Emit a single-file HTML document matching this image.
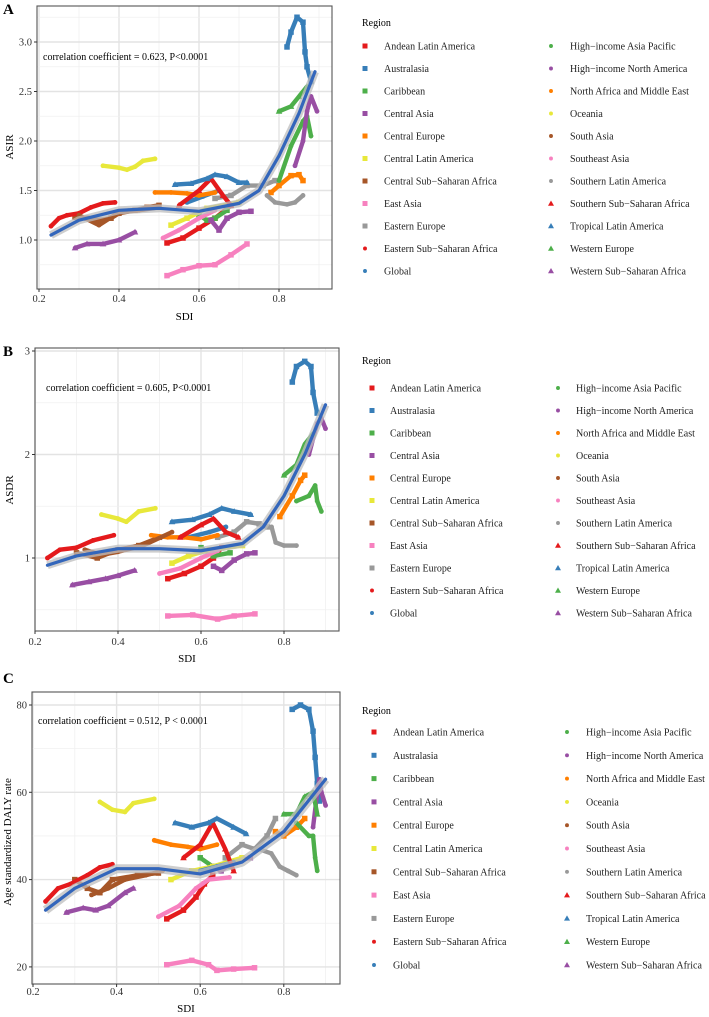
<!DOCTYPE html>
<html><head><meta charset="utf-8"><style>
html,body{margin:0;padding:0;background:#fff;}
svg{display:block;font-family:"Liberation Serif",serif;}
</style></head><body>
<svg id="chart" width="709" height="1017" viewBox="0 0 709 1017" xmlns="http://www.w3.org/2000/svg"></svg>
<script>
const categories = ["Andean Latin America","Australasia","Caribbean","Central Asia","Central Europe","Central Latin America","Central Sub\u2212Saharan Africa","East Asia","Eastern Europe","Eastern Sub\u2212Saharan Africa","Global","High\u2212income Asia Pacific","High\u2212income North America","North Africa and Middle East","Oceania","South Asia","Southeast Asia","Southern Latin America","Southern Sub\u2212Saharan Africa","Tropical Latin America","Western Europe","Western Sub\u2212Saharan Africa"];
const asirPts = [
 [[0.52,0.97],[0.56,1.02],[0.6,1.12],[0.64,1.22],[0.68,1.35]],
 [[0.82,2.95],[0.83,3.1],[0.845,3.25],[0.86,3.2],[0.865,2.9],[0.87,2.75],[0.88,2.6]],
 [[0.6,1.25],[0.62,1.2],[0.64,1.22],[0.67,1.3]],
 [[0.63,1.2],[0.65,1.1],[0.67,1.22],[0.7,1.28],[0.73,1.29]],
 [[0.78,1.48],[0.8,1.55],[0.83,1.65],[0.85,1.66],[0.86,1.6]],
 [[0.53,1.15],[0.57,1.22],[0.62,1.32],[0.7,1.38]],
 [[0.29,1.23],[0.32,1.22],[0.35,1.2],[0.38,1.22],[0.4,1.27],[0.44,1.3],[0.47,1.33],[0.5,1.35]],
 [[0.52,0.64],[0.56,0.7],[0.6,0.74],[0.64,0.75],[0.68,0.85],[0.72,0.96]],
 [[0.64,1.42],[0.68,1.45],[0.72,1.55],[0.76,1.55],[0.79,1.6]],
 [[0.23,1.14],[0.25,1.22],[0.27,1.25],[0.3,1.27],[0.33,1.33],[0.36,1.37],[0.39,1.38]],
 [[0.57,1.38],[0.61,1.44],[0.65,1.5]],
 [[0.8,1.6],[0.83,1.95],[0.86,2.2],[0.87,2.25],[0.88,2.05]],
 [[0.84,1.75],[0.86,2.0],[0.87,2.3],[0.88,2.45],[0.895,2.3]],
 [[0.49,1.48],[0.53,1.48],[0.57,1.47],[0.6,1.45],[0.64,1.48]],
 [[0.36,1.75],[0.4,1.73],[0.42,1.71],[0.44,1.74],[0.46,1.8],[0.49,1.82]],
 [[0.3,1.25],[0.35,1.15],[0.4,1.28],[0.45,1.3],[0.5,1.33]],
 [[0.51,1.02],[0.55,1.1],[0.6,1.22],[0.64,1.3]],
 [[0.77,1.45],[0.79,1.38],[0.82,1.36],[0.84,1.38],[0.86,1.45]],
 [[0.55,1.35],[0.6,1.5],[0.63,1.62],[0.66,1.45],[0.68,1.35]],
 [[0.54,1.56],[0.58,1.57],[0.62,1.62],[0.64,1.66],[0.67,1.64],[0.7,1.58],[0.72,1.58]],
 [[0.8,2.3],[0.83,2.35],[0.85,2.45],[0.87,2.55]],
 [[0.29,0.92],[0.32,0.96],[0.36,0.96],[0.4,1.0],[0.44,1.08]]
];
const asdrPts = [
 [[0.52,0.8],[0.56,0.85],[0.6,0.92],[0.63,1.0],[0.65,1.1]],
 [[0.82,2.7],[0.83,2.85],[0.85,2.9],[0.865,2.85],[0.87,2.6],[0.88,2.4]],
 [[0.6,1.1],[0.63,1.02],[0.67,1.05]],
 [[0.63,0.92],[0.65,0.88],[0.68,0.98],[0.71,1.04],[0.73,1.05]],
 [[0.79,1.4],[0.82,1.6],[0.84,1.75],[0.85,1.8]],
 [[0.53,0.95],[0.57,1.02],[0.62,1.08],[0.7,1.12]],
 [[0.3,1.05],[0.35,1.0],[0.4,1.08],[0.45,1.12],[0.5,1.2]],
 [[0.52,0.44],[0.58,0.45],[0.64,0.41],[0.68,0.44],[0.73,0.46]],
 [[0.64,1.2],[0.68,1.25],[0.71,1.35],[0.74,1.33],[0.76,1.3]],
 [[0.23,1.0],[0.26,1.08],[0.3,1.1],[0.34,1.17],[0.39,1.22]],
 [[0.57,1.2],[0.62,1.25],[0.66,1.3]],
 [[0.83,1.55],[0.86,1.6],[0.875,1.7],[0.88,1.55],[0.89,1.45]],
 [[0.86,2.0],[0.88,2.3],[0.89,2.35],[0.9,2.25]],
 [[0.48,1.22],[0.52,1.2],[0.56,1.2],[0.6,1.18],[0.64,1.22]],
 [[0.36,1.42],[0.4,1.38],[0.42,1.35],[0.45,1.45],[0.49,1.48]],
 [[0.32,1.08],[0.36,1.03],[0.4,1.06],[0.46,1.12],[0.53,1.25]],
 [[0.5,0.85],[0.55,0.9],[0.6,1.0],[0.64,1.07]],
 [[0.77,1.3],[0.78,1.15],[0.8,1.12],[0.83,1.12]],
 [[0.55,1.2],[0.6,1.32],[0.63,1.38],[0.66,1.25],[0.69,1.2]],
 [[0.53,1.35],[0.58,1.37],[0.62,1.42],[0.65,1.48],[0.68,1.45],[0.72,1.42]],
 [[0.8,1.8],[0.83,1.9],[0.85,2.1],[0.87,2.2]],
 [[0.29,0.74],[0.33,0.77],[0.37,0.8],[0.4,0.83],[0.44,0.88]]
];
const dalyPts = [
 [[0.52,31],[0.56,33],[0.59,36],[0.61,39],[0.63,41]],
 [[0.82,79],[0.84,80],[0.86,79],[0.87,74],[0.875,68],[0.88,62],[0.885,58]],
 [[0.6,45],[0.63,43],[0.67,43]],
 [[0.63,43],[0.65,42],[0.68,44],[0.72,45]],
 [[0.78,51],[0.8,50],[0.83,52],[0.85,54]],
 [[0.53,40],[0.58,42],[0.63,43],[0.7,45]],
 [[0.3,40],[0.33,38],[0.36,37],[0.39,40],[0.45,41],[0.5,41.5]],
 [[0.52,20.5],[0.58,21.5],[0.62,20.5],[0.64,19.2],[0.68,19.5],[0.73,19.8]],
 [[0.66,45],[0.7,48],[0.73,47],[0.76,50],[0.78,54]],
 [[0.23,35],[0.26,38],[0.29,39],[0.33,41],[0.36,42.8],[0.39,43.5]],
 [[0.6,42],[0.64,43],[0.68,44]],
 [[0.83,53],[0.86,50],[0.87,50],[0.875,45],[0.88,42]],
 [[0.87,52],[0.88,60],[0.885,63],[0.89,60],[0.9,57]],
 [[0.49,49],[0.53,48],[0.57,47.5],[0.6,47],[0.64,48]],
 [[0.36,57.8],[0.39,56],[0.42,55.5],[0.44,57.5],[0.49,58.5]],
 [[0.34,36.5],[0.38,38],[0.42,40],[0.47,41],[0.51,42]],
 [[0.5,31.5],[0.55,34],[0.59,38],[0.62,40],[0.67,40.5]],
 [[0.74,47],[0.77,46],[0.79,43],[0.81,42],[0.83,41]],
 [[0.56,45],[0.6,48],[0.63,53],[0.66,47],[0.68,42]],
 [[0.54,53],[0.58,52],[0.62,53],[0.64,54],[0.68,52],[0.71,50.5]],
 [[0.8,55],[0.83,55],[0.85,59],[0.87,60],[0.88,55]],
 [[0.28,32.5],[0.32,33.5],[0.35,33],[0.38,34],[0.42,37],[0.44,38]]
];
const fitA = [[0.23,1.05],[0.3,1.2],[0.4,1.3],[0.5,1.32],[0.6,1.29],[0.7,1.37],[0.75,1.5],[0.8,1.85],[0.85,2.28],[0.89,2.7]];
const fitB = [[0.23,0.93],[0.3,1.02],[0.4,1.09],[0.5,1.09],[0.6,1.07],[0.7,1.14],[0.75,1.3],[0.8,1.6],[0.85,2.0],[0.9,2.48]];
const fitC = [[0.23,33],[0.3,38],[0.4,42.5],[0.5,42.5],[0.6,41.3],[0.7,44],[0.8,51],[0.9,63]];
const xTicks = [0.2,0.4,0.6,0.8];
const yTicksA = ["1.0","1.5","2.0","2.5","3.0"];
const yTicksB = ["1","2","3"];
const yTicksC = ["20","40","60","80"];

const palette = ["#E41A1C","#377EB8","#4DAF4A","#984EA3","#FF7F00","#E8E83A","#A65628","#F781BF","#999999"];
const NS = "http://www.w3.org/2000/svg";
const svg = document.getElementById("chart");
function mk(tag, attrs, parent){const e=document.createElementNS(NS,tag);for(const k in attrs)e.setAttribute(k,attrs[k]);(parent||svg).appendChild(e);return e;}
function styleOf(i){ if(i<9) return {shape:"sq",color:palette[i]}; if(i<18) return {shape:"ci",color:palette[i-9]}; return {shape:"tr",color:palette[[0,1,2,3][i-18]]}; }
function marker(g,shape,color,x,y,s){
  if(shape==="sq") return mk("rect",{x:x-s/2,y:y-s/2,width:s,height:s,fill:color},g);
  if(shape==="ci") return mk("circle",{cx:x,cy:y,r:s/2.3,fill:color},g);
  return mk("polygon",{points:`${x},${y-s*0.6} ${x-s*0.6},${y+s*0.45} ${x+s*0.6},${y+s*0.45}`,fill:color},g);
}

const panels = [
 {key:"asir",letter:"A",pts:asirPts,fit:fitA,yt:yTicksA,L:37,R:332,T:6,B:289,px0:39,pps:400,vy0:1,py0:240,ppv:99,
  ytitle:"ASIR",ytx:9,yty:147,ann:"correlation coefficient = 0.623, P<0.0001",ax:43,ay:60,letX:3,letY:14,xl:302,xt:320,
  legX:362,regY:22,rowY:46,rowD:22.5,m1:365,t1:384,m2:551,t2:570,band:8},
 {key:"asdr",letter:"B",pts:asdrPts,fit:fitB,yt:yTicksB,L:35,R:339,T:348,B:631,px0:35,pps:415,vy0:1,py0:558,ppv:103.5,
  ytitle:"ASDR",ytx:9,yty:490,ann:"correlation coefficient = 0.605, P<0.0001",ax:46,ay:391,letX:3,letY:356,xl:645,xt:662,
  legX:362,regY:360,rowY:388,rowD:22.5,m1:372,t1:390,m2:558,t2:576,band:8},
 {key:"daly",letter:"C",pts:dalyPts,fit:fitC,yt:yTicksC,L:32,R:340,T:692,B:984,px0:33,pps:418,vy0:80,py0:705,ppv:4.365,
  ytitle:"Age standardized DALY rate",ytx:7,yty:842,ann:"correlation coefficient = 0.512, P < 0.0001",ax:38,ay:724,letX:3,letY:683,xl:995,xt:1012,
  legX:362,regY:710,rowY:732,rowD:23.3,m1:374,t1:393,m2:567,t2:586,band:9}
];

panels.forEach(p=>{
  const xs = s => p.px0 + (s-0.2)*p.pps;
  const ys = v => p.py0 - (v - p.vy0)*p.ppv;
  const vTop = p.vy0 + (p.py0 - p.T)/p.ppv, vBot = p.vy0 - (p.B - p.py0)/p.ppv;
  const g = mk("g",{});
  
  
  const bg = mk("rect",{x:p.L,y:p.T,width:p.R-p.L,height:p.B-p.T,fill:"#fff"},g);
  
  
  for(let s=0.3;s<=0.91;s+=0.2){ mk("line",{x1:xs(s),x2:xs(s),y1:p.T,y2:p.B,stroke:"#f0f0f0","stroke-width":0.8},g); }
  xTicks.forEach(s=>mk("line",{x1:xs(s),x2:xs(s),y1:p.T,y2:p.B,stroke:"#e3e3e3","stroke-width":1.4},g));
  const major = p.yt.map(Number);
  const step = major[1]-major[0];
  for(let v=major[0]-step/2; v<vTop; v+=step){ if(v>vBot) mk("line",{x1:p.L,x2:p.R,y1:ys(v),y2:ys(v),stroke:"#f0f0f0","stroke-width":0.8},g); }
  major.forEach(v=>mk("line",{x1:p.L,x2:p.R,y1:ys(v),y2:ys(v),stroke:"#e3e3e3","stroke-width":1.4},g));
  p.pts.forEach((arr,i)=>{
    const st = styleOf(i);
    const sg = mk("g",{},g);
    
    
    mk("polyline",{points:arr.map(d=>xs(d[0])+","+ys(d[1])).join(" "),fill:"none",stroke:st.color,"stroke-width":4.4,"stroke-linejoin":"round","stroke-linecap":"round"},sg);
    arr.forEach(d=>{ const m = marker(sg,st.shape,st.color,xs(d[0]),ys(d[1]),5.5);
      
       });
  });
  const fpts = p.fit.map(d=>xs(d[0])+","+ys(d[1])).join(" ");
  const band = mk("polyline",{points:fpts,fill:"none",stroke:"#bdbdbd","stroke-opacity":0.75,"stroke-width":p.band,"stroke-linejoin":"round"},g);
  
  
  const fl = mk("polyline",{points:fpts,fill:"none",stroke:"#3366BB","stroke-width":3.2,"stroke-linejoin":"round","stroke-linecap":"round"},g);
  
  
  const bd = mk("rect",{x:p.L,y:p.T,width:p.R-p.L,height:p.B-p.T,fill:"none",stroke:"#555","stroke-width":1.1},g);
  
  
  xTicks.forEach(s=>{
    mk("line",{x1:xs(s),x2:xs(s),y1:p.B,y2:p.B+3,stroke:"#333"},g);
    const t = mk("text",{x:xs(s),y:p.xl,"font-size":10.5,"text-anchor":"middle",fill:"#333"},g);
    t.textContent = s.toFixed(1);
    
    
  });
  p.yt.forEach(lbl=>{
    const v = Number(lbl);
    mk("line",{x1:p.L-3,x2:p.L,y1:ys(v),y2:ys(v),stroke:"#333"},g);
    const t = mk("text",{x:p.L-5,y:ys(v)+3.5,"font-size":10.5,"text-anchor":"end",fill:"#333"},g);
    t.textContent = lbl;
    
    
  });
  const xt = mk("text",{x:(p.L+p.R)/2,y:p.xt,"font-size":11,"text-anchor":"middle",fill:"#000"},g);
  xt.textContent = "SDI";
  
  
  const yt = mk("text",{x:p.ytx,y:p.yty,"font-size":11,"text-anchor":"middle",fill:"#000",transform:`rotate(-90 ${p.ytx} ${p.yty})`},g);
  yt.setAttribute("dy","4");
  yt.textContent = p.ytitle;
  
  
  const an = mk("text",{x:p.ax,y:p.ay,"font-size":10,fill:"#000"},g);
  an.textContent = p.ann;
  
  
  const lt = mk("text",{x:p.letX,y:p.letY,"font-size":15,"font-weight":"bold",fill:"#000"},g);
  lt.textContent = p.letter;
  
  
  const lg = mk("g",{},g);
  
  
  const rt = mk("text",{x:p.legX,y:p.regY+4,"font-size":10,fill:"#000"},lg);
  rt.textContent = "Region";
  
  
  categories.forEach((c,i)=>{
    const col = i<11?0:1, row = i<11?i:i-11;
    const y = p.rowY + row*p.rowD;
    const st = styleOf(i);
    const eg = mk("g",{},lg);
    
    
    marker(eg,st.shape,st.color,col?p.m2:p.m1,y,st.shape==="ci"?4.5:5);
    const t = mk("text",{x:col?p.t2:p.t1,y:y+3.5,"font-size":10,fill:"#222"},eg);
    t.textContent = c;
  });
});
</script>
</body></html>
